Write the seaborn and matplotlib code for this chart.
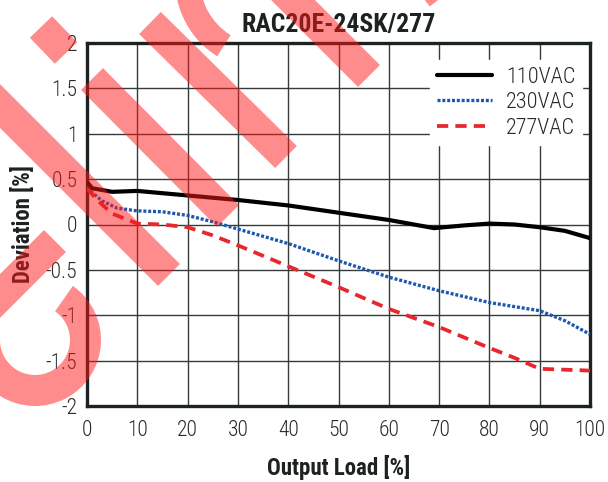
import numpy as np
import pandas as pd
import matplotlib
matplotlib.use('Agg')
import matplotlib.pyplot as plt
import seaborn as sns
from matplotlib.patches import Polygon, Wedge
from matplotlib.transforms import IdentityTransform

# ---- data ----
load_110 = [0, 1, 5, 10, 20, 30, 40, 50, 60, 69, 75, 80, 85, 90, 95, 100]
dev_110 = [0.47, 0.40, 0.36, 0.37, 0.32, 0.27, 0.21, 0.13, 0.05, -0.04, -0.01, 0.01, 0.0, -0.03, -0.07, -0.15]

load_230 = [0, 3, 6, 10, 15, 20, 25, 30, 40, 50, 60, 70, 80, 90, 95, 100]
dev_230 = [0.40, 0.26, 0.18, 0.15, 0.14, 0.10, 0.03, -0.05, -0.21, -0.40, -0.58, -0.73, -0.86, -0.95, -1.06, -1.21]

load_277 = [0, 2, 5, 10, 15, 20, 25, 30, 40, 50, 60, 70, 80, 85, 90, 95, 100]
dev_277 = [0.40, 0.27, 0.12, 0.01, 0.0, -0.03, -0.12, -0.23, -0.46, -0.69, -0.93, -1.13, -1.36, -1.47, -1.59, -1.60, -1.61]

series_names = ['110VAC', '230VAC', '277VAC']
x_ticks = list(range(0, 101, 10))
y_ticks = [2, 1.5, 1, 0.5, 0, -0.5, -1, -1.5, -2]
y_tick_labels = ['2', '1.5', '1', '0.5', '0', '-0.5', '-1', '-1.5', '-2']

sns.set_style('white')
plt.rcParams['font.family'] = ['Roboto Condensed', 'DejaVu Sans']

fig = plt.figure(figsize=(6.08, 4.82), dpi=100)
ax = fig.add_axes([87 / 608, 76 / 482, 503 / 608, 363 / 482])

sns.lineplot(x=load_110, y=dev_110, ax=ax, color='black', lw=3.0,
             label=series_names[0], zorder=4)
sns.lineplot(x=load_230, y=dev_230, ax=ax, color='#1d58ae', lw=2.4,
             linestyle=(0, (0.9, 0.55)), label=series_names[1], zorder=3)
sns.lineplot(x=load_277, y=dev_277, ax=ax, color='#e8262e', lw=2.7,
             linestyle=(0, (3.0, 1.9)), label=series_names[2], zorder=3)

ax.set_xlim(0, 100)
ax.set_ylim(-2, 2)
ax.set_xticks(x_ticks)
ax.set_xticklabels([str(t) for t in x_ticks], fontweight='light')
ax.set_yticks(y_ticks)
ax.set_yticklabels(y_tick_labels, fontweight='light')
ax.tick_params(length=0, labelsize=15.5, colors='#2a2a2a')
ax.tick_params(axis='x', pad=10)
ax.tick_params(axis='y', pad=7)

ax.grid(True, color='#353b3b', lw=1.0)
ax.set_axisbelow(True)
for s in ax.spines.values():
    s.set_visible(True)
    s.set_color('#1c2222')
    s.set_linewidth(2.4)

ax.set_title('RAC20E-24SK/277', fontsize=18.5, fontweight='bold', color='#1c2222', pad=8)
ax.set_xlabel('Output Load [%]', fontsize=16.5, fontweight='bold', color='#1c2222', labelpad=10)
ax.set_ylabel('Deviation [%]', fontsize=16.5, fontweight='bold', color='#1c2222', labelpad=8)

leg = ax.legend(loc='upper right', bbox_to_anchor=(0.984, 0.953),
                prop={'weight': 'light', 'size': 16},
                frameon=True, fancybox=False, framealpha=1, edgecolor='white',
                handlelength=2.5, handletextpad=0.6, labelspacing=0.2,
                borderpad=0.3, borderaxespad=0)
for t in leg.get_texts():
    t.set_color('#2a2a2a')

# ---- red watermark stamp over the chart (decoration, pixel coords) ----
H = 482
wm = dict(color='#ff1a1a', alpha=0.5, lw=0, zorder=20, transform=IdentityTransform())


def band(p0, p1, w):
    p0 = np.array(p0, float)
    p1 = np.array(p1, float)
    d = p1 - p0
    n = np.array([-d[1], d[0]]) / np.hypot(*d) * w / 2
    pts = [p0 + n, p1 + n, p1 - n, p0 - n]
    return [(x, H - y) for x, y in pts]


stripes = [((41, 27), (66, 53)), ((92, 79), (228, 216)), ((150, 23), (286, 157)),
           ((262, -31), (369, 76)), ((-31, 75), (169, 275)), ((55, 241), (-45, 341)),
           ((425, -25), (442, -3))]
for a, b in stripes:
    fig.add_artist(Polygon(band(a, b, 31), closed=True, **wm))

fig.add_artist(Wedge((35, H - 340), 66, 180, 415, width=31, **wm))
fig.add_artist(Wedge((265, H + 20), 90, 178, 238, width=25, **wm))

fig.savefig('out.png', dpi=100)
